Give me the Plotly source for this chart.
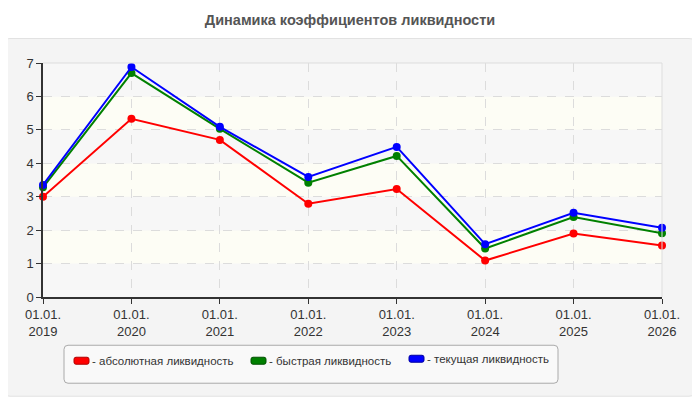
import plotly.graph_objects as go

# data
years = [2019, 2020, 2021, 2022, 2023, 2024, 2025, 2026]
tick_labels = ["01.01.<br>%d" % y for y in years]
absolute_liq = [3.00, 5.33, 4.70, 2.79, 3.23, 1.09, 1.90, 1.54]
quick_liq = [3.28, 6.70, 5.03, 3.42, 4.22, 1.45, 2.39, 1.91]
current_liq = [3.35, 6.88, 5.09, 3.59, 4.49, 1.58, 2.52, 2.07]

series = [
    ("- абсолютная ликвидность", absolute_liq, "#ff0000", "#b00000"),
    ("- быстрая ликвидность", quick_liq, "#008000", "#005000"),
    ("- текущая ликвидность", current_liq, "#0000ff", "#0000a0"),
]

W, H = 700, 400
OFF = 8  # page body margin shifts the figure by 8px
L, R, T, B = 43 - OFF, 662 - OFF, 62.5 - OFF, 296.7 - OFF  # plot area in pixels
FONT = "Liberation Sans, Arial, sans-serif"


def px_x(px):
    return (px - OFF - L) / (R - L)


def px_y(py):
    return (B - (py - OFF)) / (B - T)


def rounded_rect(x0, y0, x1, y1, r):
    """Rounded rectangle path in paper coords from a pixel box of the reference."""
    rx = r / (R - L)
    ry = r / (B - T)
    a, b = px_x(x0), px_x(x1)
    top, bot = px_y(y0), px_y(y1)
    return (f"M{a + rx},{top} L{b - rx},{top} Q{b},{top} {b},{top - ry} "
            f"L{b},{bot + ry} Q{b},{bot} {b - rx},{bot} "
            f"L{a + rx},{bot} Q{a},{bot} {a},{bot + ry} "
            f"L{a},{top - ry} Q{a},{top} {a + rx},{top} Z")


fig = go.Figure()

for name, vals, colour, _ in series:
    fig.add_trace(go.Scatter(
        x=years, y=vals, name=name, mode="lines+markers",
        line=dict(color=colour, width=2),
        marker=dict(color=colour, size=8),
        cliponaxis=False, showlegend=False,
    ))

shapes = []
# grey panel behind the chart
shapes.append(dict(type="path", xref="paper", yref="paper", layer="below",
                   path=rounded_rect(2, 38, 697, 396, 8),
                   fillcolor="#f4f4f4", line=dict(color="#e2e2e2", width=1)))
# plot area background bands (hatched / cream alternating)
for i in range(7):
    fill = "#f7f7f7" if i % 2 == 0 else "#fdfdf5"
    shapes.append(dict(type="rect", xref="x", yref="y", layer="below",
                       x0=years[0], x1=years[-1], y0=i, y1=i + 1,
                       fillcolor=fill, line=dict(width=0)))
# light border on top / right of plot area
shapes.append(dict(type="line", xref="paper", yref="paper", x0=0, x1=1, y0=1, y1=1,
                   line=dict(color="#dddddd", width=1)))
shapes.append(dict(type="line", xref="paper", yref="paper", x0=1, x1=1, y0=0, y1=1,
                   line=dict(color="#dddddd", width=1)))
# custom legend box
shapes.append(dict(type="path", xref="paper", yref="paper",
                   path=rounded_rect(64, 345, 558, 383, 4),
                   fillcolor="#f9f9f9", line=dict(color="#aaaaaa", width=1)))

annotations = []
legend_x = [74, 251, 409]
legend_y = [360.5, 360.5, 358.5]
for (name, _, colour, edge), lx, ly in zip(series, legend_x, legend_y):
    shapes.append(dict(type="path", xref="paper", yref="paper",
                       path=rounded_rect(lx, ly - 3.5, lx + 15, ly + 3.5, 2),
                       fillcolor=colour, line=dict(color=edge, width=1)))
    annotations.append(dict(xref="paper", yref="paper", x=px_x(lx + 16), y=px_y(ly),
                            xanchor="left", yanchor="middle", showarrow=False,
                            text=name, font=dict(family=FONT, size=11.5, color="#333333")))

fig.update_layout(
    width=W, height=H,
    margin=dict(l=L, r=W - R, t=T, b=H - B, pad=0),
    paper_bgcolor="white", plot_bgcolor="rgba(0,0,0,0)",
    title=dict(text="<b>Динамика коэффициентов ликвидности</b>", x=px_x(350),
               xref="paper", xanchor="center", y=1 - (20 - OFF) / H, yanchor="middle",
               font=dict(family=FONT, size=14.5, color="#555555")),
    font=dict(family=FONT, size=12, color="#333333"),
    shapes=shapes, annotations=annotations,
    showlegend=False,
)
fig.update_xaxes(
    range=[years[0], years[-1]], tickvals=years, ticktext=tick_labels,
    showline=True, linecolor="#333333", linewidth=1.5,
    ticks="outside", ticklen=5, tickcolor="#333333",
    showgrid=True, gridcolor="#dcdcdc", griddash="dash", gridwidth=1,
    zeroline=False, tickfont=dict(size=13, color="#333333"),
)
fig.update_yaxes(
    range=[0, 7], dtick=1,
    showline=True, linecolor="#333333", linewidth=1.5,
    ticks="outside", ticklen=5, tickcolor="#333333",
    showgrid=True, gridcolor="#dcdcdc", griddash="dash", gridwidth=1,
    zeroline=False, tickfont=dict(size=13, color="#333333"),
)

fig.write_html("out.html")
